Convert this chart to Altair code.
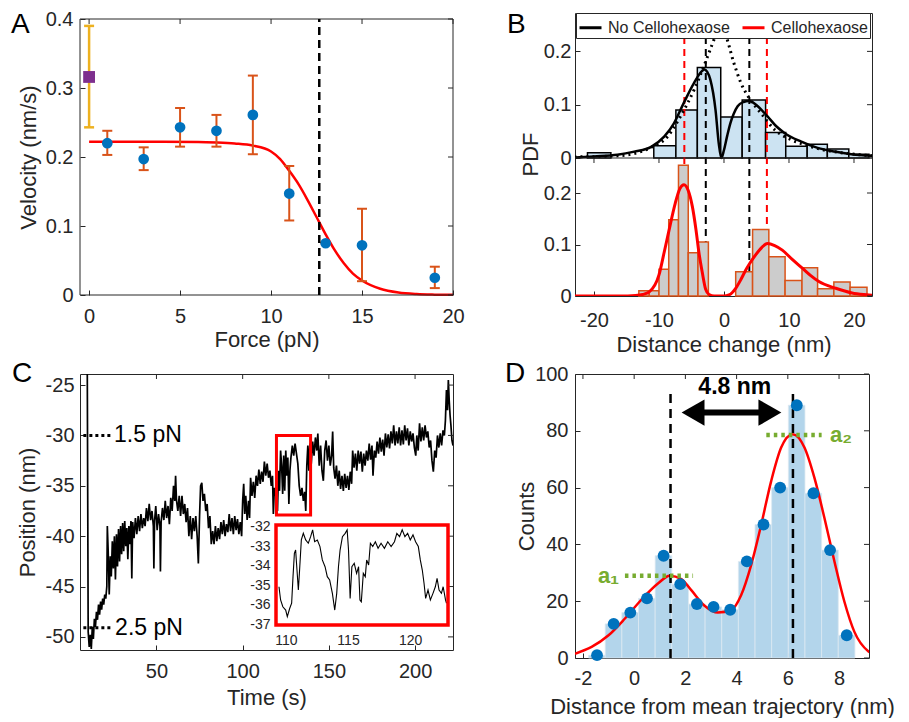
import altair as alt
import pandas as pd

FONT = "Liberation Sans"
INK = "#262626"
BLUE = "#0072BD"
ORANGE = "#D95319"
YELLOW = "#EDB120"
PURPLE = "#7E2F8E"
GREEN = "#77AC30"
RED = "#FF0000"

# ---------------- Panel A data ----------------
force = [1, 3, 5, 7, 9, 11, 13, 15, 19]
velocity = [0.220, 0.197, 0.243, 0.238, 0.261, 0.147, 0.075, 0.072, 0.025]
velocity_lo = [0.203, 0.181, 0.215, 0.215, 0.204, 0.108, 0.075, 0.020, 0.010]
velocity_hi = [0.238, 0.214, 0.271, 0.261, 0.318, 0.187, 0.075, 0.125, 0.041]
control_force = [0]
control_velocity = [0.316]
control_lo = [0.243]
control_hi = [0.390]
fit_force = [0, 2, 4, 6, 7, 8, 9, 10, 10.5, 11, 11.5, 12, 12.5, 13, 13.5, 14, 14.5, 15, 16, 17, 18, 19, 20]
fit_velocity = [0.222, 0.222, 0.222, 0.2218, 0.221, 0.2195, 0.2165, 0.208, 0.197, 0.180, 0.161, 0.138,
                0.113, 0.088, 0.065, 0.046, 0.031, 0.021, 0.009, 0.0035, 0.0013, 0.0005, 0.0002]
stall = [(12.65, 0.0, 0.4)]
a_frame = [(-0.5, 20.0, 0.0, 0.4)]
a_xticks = [0, 5, 10, 15, 20]
a_yticks = [0, 0.1, 0.2, 0.3, 0.4]

# ---------------- Panel B data ----------------
nocello_left = [-21.0, -10.8, -7.4, -4.1, -0.5, 2.8, 6.4, 9.5, 12.8, 15.9, 19.2]
nocello_right = [-17.4, -7.4, -4.1, -0.5, 2.8, 6.4, 9.5, 12.8, 15.9, 19.2, 22.3]
nocello_pdf = [0.010, 0.023, 0.090, 0.170, 0.077, 0.109, 0.048, 0.022, 0.026, 0.017, 0.007]
cello_left = [-13.1, -11.5, -10.0, -8.5, -7.0, -5.5, -4.0, 1.8, 4.4, 6.9, 9.4, 12.0, 14.4, 16.9, 19.4]
cello_right = [-11.5, -10.0, -8.5, -7.0, -5.5, -4.0, -2.4, 4.4, 6.9, 9.4, 12.0, 14.4, 16.9, 19.4, 22.0]
cello_pdf = [0.010, 0.010, 0.052, 0.148, 0.254, 0.084, 0.105, 0.047, 0.129, 0.076, 0.030, 0.055, 0.014, 0.027, 0.017]
nocello_fit = [(-23, 0.001), (-20, 0.003), (-16.4, 0.006), (-13.8, 0.012), (-11.2, 0.021), (-9.2, 0.040),
               (-7.7, 0.065), (-6.2, 0.103), (-4.6, 0.141), (-3.4, 0.163), (-3.0, 0.166), (-2.6, 0.162),
               (-2.1, 0.147), (-1.3, 0.090), (-0.8, 0.027), (-0.4, 0.0), (0.0, 0.015), (0.5, 0.042),
               (1.0, 0.066), (1.5, 0.083), (2.1, 0.097), (3.0, 0.105), (3.8, 0.107), (4.5, 0.104),
               (5.2, 0.097), (6.7, 0.078), (8.0, 0.060), (9.3, 0.047), (11.8, 0.031), (14.4, 0.019),
               (17.0, 0.012), (19.6, 0.007), (23, 0.004)]
single_fit = [(-23, 0.002), (-16.4, 0.004), (-11.2, 0.020), (-8.7, 0.040), (-6.7, 0.078), (-4.6, 0.128),
              (-3.1, 0.172), (-2.1, 0.204), (-1.3, 0.229), (-0.5, 0.245), (0.2, 0.232), (1.5, 0.179),
              (2.6, 0.141), (3.9, 0.112), (5.7, 0.084), (7.8, 0.053), (10.4, 0.034), (12.4, 0.025),
              (15.0, 0.016), (18.0, 0.010), (23, 0.004)]
cello_fit = [(-23, 0.0), (-16, 0.0), (-13.6, 0.001), (-12.5, 0.003), (-11.5, 0.008), (-10.0, 0.041),
             (-9.2, 0.085), (-8.5, 0.125), (-7.5, 0.180), (-6.8, 0.208), (-6.15, 0.216), (-5.5, 0.205),
             (-4.87, 0.174), (-4.3, 0.128), (-3.85, 0.084), (-3.33, 0.045), (-2.82, 0.013), (-2.3, 0.003),
             (-1.5, 0.0), (0.0, 0.0), (0.77, 0.002), (1.8, 0.015), (2.6, 0.032), (3.33, 0.050),
             (4.1, 0.066), (4.87, 0.080), (5.8, 0.094), (6.67, 0.102), (7.8, 0.098), (8.97, 0.089),
             (10.5, 0.071), (12.05, 0.054), (13.3, 0.040), (14.6, 0.028), (17.2, 0.015), (19.7, 0.006),
             (22.3, 0.002), (23, 0.001)]
nocello_steps = [-2.8, 3.9]
cello_steps = [-6.1, 6.6]
b_top_max = 0.272
b_bottom_max = 0.268
b_xticks = [-20, -10, 0, 10, 20]
b_yticks = [0, 0.1, 0.2]

# ---------------- Panel C data ----------------
trace = [
    (9.8, -20.0), (10.4, -49.5), (11.0, -51.0), (11.6, -49.8), (12.2, -51.2), (12.8, -49.0), (13.4, -50.2),
    (14.0, -48.2), (14.6, -49.0), (15.2, -47.5), (15.8, -48.3), (16.4, -46.8), (17.0, -47.8), (17.6, -46.5),
    (18.2, -47.3), (18.8, -46.2), (19.4, -46.8), (20.0, -45.8), (20.6, -46.2), (21.2, -45.0), (21.5, -39.0),
    (22.0, -41.5), (22.6, -45.8), (23.2, -42.0), (23.8, -44.0), (24.4, -40.5), (25.0, -43.2), (25.6, -40.0),
    (26.2, -44.3), (26.8, -39.8), (27.4, -43.0), (28.0, -39.3), (28.6, -42.5), (29.2, -39.0), (29.8, -41.8),
    (30.4, -38.7), (31.0, -41.5), (31.6, -38.5), (32.2, -41.0), (32.8, -39.2), (33.4, -42.3), (34.0, -39.0),
    (34.6, -40.8), (35.2, -38.5), (35.7, -44.2), (36.2, -38.6), (37.0, -40.2), (37.8, -38.2), (38.6, -39.8),
    (39.4, -38.0), (40.2, -39.5), (41.0, -37.8), (41.8, -39.2), (42.6, -38.2), (43.4, -39.0), (44.2, -37.2),
    (45.0, -38.5), (45.8, -36.8), (46.6, -38.4), (47.4, -37.5), (48.2, -39.0), (48.5, -43.2), (48.9, -38.5),
    (49.6, -37.0), (50.4, -39.4), (51.2, -37.8), (52.0, -39.0), (52.3, -43.5), (52.7, -38.6), (53.5, -37.2),
    (54.3, -38.4), (55.1, -36.5), (55.9, -38.2), (56.7, -37.0), (57.5, -38.8), (58.3, -36.2), (59.1, -37.5),
    (59.9, -35.0), (60.6, -36.5), (61.1, -34.0), (61.6, -36.4), (62.4, -37.5), (63.2, -36.0), (64.0, -38.0),
    (64.8, -36.0), (65.6, -37.8), (66.4, -36.8), (67.2, -38.6), (68.0, -37.2), (68.8, -40.0), (69.6, -38.0),
    (70.4, -40.3), (71.2, -38.2), (72.0, -39.5), (72.8, -38.0), (73.6, -40.0), (74.3, -42.7), (75.0, -38.0),
    (75.6, -35.0), (76.3, -34.7), (77.0, -36.5), (77.8, -35.8), (78.6, -37.5), (79.4, -36.8), (80.2, -39.2),
    (81.0, -38.0), (81.8, -40.8), (82.6, -39.5), (83.4, -40.8), (84.2, -39.0), (85.0, -40.5), (85.8, -39.2),
    (86.6, -40.3), (87.4, -38.6), (88.2, -39.8), (89.0, -38.4), (89.8, -40.0), (90.6, -38.8), (91.4, -39.6),
    (92.2, -37.8), (93.0, -39.5), (93.8, -38.2), (94.6, -39.8), (95.4, -38.0), (96.2, -39.4), (97.0, -38.3),
    (97.8, -39.8), (98.6, -38.6), (99.4, -40.0), (100.0, -36.5), (100.6, -34.8), (101.2, -37.8), (101.8, -36.0),
    (102.6, -38.4), (103.4, -36.5), (104.0, -38.2), (104.6, -34.2), (105.4, -36.0), (106.2, -34.6), (107.0, -36.2),
    (107.8, -34.0), (108.6, -35.0), (109.4, -33.4), (110.2, -34.8), (111.0, -33.6), (111.8, -34.6), (112.6, -32.6),
    (113.4, -34.0), (114.2, -32.8), (115.0, -34.2), (115.8, -33.5), (116.6, -35.0), (117.3, -34.0), (117.8, -37.8),
    (118.4, -35.2), (119.0, -36.0), (119.6, -34.5), (120.2, -37.5), (120.8, -33.5), (121.4, -35.5), (122.0, -31.5),
    (122.6, -33.0), (123.2, -35.8), (123.8, -32.0), (124.4, -35.5), (125.0, -31.5), (125.6, -34.0), (126.2, -32.2),
    (126.8, -36.8), (127.4, -33.5), (128.0, -32.2), (128.8, -31.0), (129.6, -32.0), (130.4, -30.8), (131.2, -31.8),
    (132.0, -32.8), (132.8, -35.0), (133.6, -36.0), (134.4, -35.2), (135.2, -36.5), (136.0, -35.6), (136.6, -37.5),
    (137.2, -33.0), (137.8, -31.0), (138.4, -33.5), (139.0, -30.8), (139.8, -32.8), (140.6, -30.6), (141.4, -32.0),
    (142.2, -30.2), (143.0, -31.5), (143.6, -29.8), (144.4, -33.0), (145.2, -31.0), (146.0, -33.5), (146.8, -34.5),
    (147.6, -31.5), (148.4, -30.5), (149.2, -32.5), (150.0, -31.0), (150.8, -33.0), (151.6, -32.0), (152.2, -29.6),
    (152.8, -33.2), (153.6, -34.3), (154.4, -33.0), (155.2, -35.0), (156.0, -33.5), (156.8, -35.3), (157.6, -34.0),
    (158.4, -35.5), (159.2, -33.8), (160.0, -35.2), (160.8, -34.0), (161.6, -35.4), (162.4, -33.6), (163.2, -34.8),
    (163.8, -31.5), (164.6, -33.2), (165.4, -31.8), (166.2, -33.5), (167.0, -31.5), (167.8, -32.8), (168.6, -31.6),
    (169.4, -33.6), (170.2, -31.8), (171.0, -33.0), (171.8, -31.5), (172.6, -32.5), (173.4, -30.8), (174.2, -32.4),
    (175.0, -31.0), (175.6, -34.0), (176.4, -31.5), (177.2, -32.2), (178.0, -30.6), (178.8, -31.8), (179.6, -30.2),
    (180.4, -31.6), (181.2, -30.4), (182.0, -32.0), (182.8, -29.8), (183.6, -31.2), (184.4, -29.9), (185.2, -31.3),
    (186.0, -29.6), (186.8, -30.8), (187.6, -29.0), (188.4, -31.0), (189.2, -29.6), (190.0, -30.8), (190.8, -29.2),
    (191.6, -31.0), (192.4, -29.5), (193.2, -30.9), (194.0, -29.0), (194.8, -30.5), (195.6, -29.3), (196.4, -31.0),
    (197.2, -29.6), (198.0, -30.6), (198.8, -29.8), (199.6, -31.2), (200.4, -32.0), (201.0, -30.0), (201.8, -31.5),
    (202.6, -28.8), (203.4, -30.6), (204.2, -29.2), (205.0, -30.5), (205.8, -29.0), (206.6, -30.2), (207.4, -29.6),
    (208.2, -31.2), (209.0, -30.5), (209.8, -32.5), (210.6, -33.6), (211.4, -31.5), (212.2, -32.2), (213.0, -30.0),
    (213.8, -31.2), (214.6, -29.8), (215.4, -31.0), (216.2, -29.5), (217.0, -30.0), (217.6, -28.5), (218.2, -25.5),
    (218.8, -27.5), (219.3, -24.5), (219.8, -26.5), (220.3, -28.0), (220.8, -29.0), (221.4, -30.5), (222.0, -31.0)]
inset_trace = [
    (109.44, -35.08), (109.57, -35.76), (109.75, -36.11), (109.98, -36.28), (110.11, -36.62), (110.30, -36.20),
    (110.46, -35.93), (110.57, -34.56), (110.68, -33.36), (110.78, -33.19), (110.89, -34.22), (111.00, -35.25),
    (111.10, -34.22), (111.24, -32.67), (111.40, -32.33), (111.59, -32.67), (111.80, -32.84), (111.99, -32.50),
    (112.15, -32.15), (112.31, -32.76), (112.53, -32.67), (112.74, -33.01), (112.93, -33.70), (113.15, -34.05),
    (113.33, -34.56), (113.52, -34.73), (113.74, -35.42), (113.93, -36.28), (114.09, -35.42), (114.23, -34.05),
    (114.36, -33.19), (114.55, -32.50), (114.77, -32.33), (114.93, -32.15), (115.04, -33.19), (115.17, -35.68),
    (115.31, -34.05), (115.50, -33.87), (115.69, -34.39), (115.85, -34.05), (115.96, -35.76), (116.07, -35.85),
    (116.23, -34.39), (116.39, -34.56), (116.50, -33.70), (116.66, -33.96), (116.80, -32.84), (116.99, -33.01),
    (117.20, -32.76), (117.42, -33.10), (117.66, -32.84), (117.93, -33.10), (118.20, -32.76), (118.47, -33.01),
    (118.74, -32.76), (118.93, -32.33), (119.15, -32.50), (119.36, -32.15), (119.58, -32.50), (119.80, -32.33),
    (120.01, -32.67), (120.23, -32.41), (120.44, -32.76), (120.66, -33.01), (120.82, -33.70), (120.98, -34.22),
    (121.12, -34.90), (121.25, -35.68), (121.44, -35.25), (121.63, -35.76), (121.84, -35.42), (122.03, -35.08),
    (122.17, -34.65), (122.33, -35.25), (122.52, -35.42), (122.66, -35.08), (122.85, -35.76), (122.93, -35.93)]
zoom_box = [(119.6, 139.4, -37.9, -30.0)]
inset_box = [(109.2, 123.05, -37.05, -31.9)]
force_marks = [(-30.0, 7.6, 23.3, 25.4, "1.5 pN"), (-49.1, 7.6, 24.3, 26.0, "2.5 pN")]
c_xticks = [50, 100, 150, 200]
c_yticks = [-50, -45, -40, -35, -30, -25]
inset_xticks = [110, 115, 120]
inset_yticks = [-37, -36, -35, -34, -33, -32]

# ---------------- Panel D data ----------------
d_center = [-1.45, -0.8, -0.15, 0.5, 1.15, 1.8, 2.45, 3.1, 3.75, 4.4, 5.05, 5.7, 6.35, 7.0, 7.65, 8.3]
d_left = [-1.78, -1.13, -0.48, 0.17, 0.82, 1.47, 2.12, 2.77, 3.42, 4.07, 4.72, 5.37, 6.02, 6.67, 7.32, 7.97]
d_right = [-1.13, -0.48, 0.17, 0.82, 1.47, 2.12, 2.77, 3.42, 4.07, 4.72, 5.37, 6.02, 6.67, 7.32, 7.97, 8.62]
d_counts = [1, 12, 16, 21, 36, 26, 19, 18, 17, 34, 47, 60, 89, 58, 38, 8]
d_fit = [(-2.31, 1.5), (-1.66, 3.9), (-1.0, 8.0), (-0.36, 13.9), (0.29, 20.6), (0.94, 26.3), (1.39, 29.0),
         (1.84, 27.8), (2.23, 23.9), (2.75, 18.4), (3.27, 16.0), (3.79, 16.9), (4.18, 22.2), (4.57, 32.8),
         (4.96, 46.9), (5.35, 62.3), (5.74, 74.1), (6.19, 78.8), (6.65, 74.1), (7.04, 63.4), (7.43, 49.3),
         (7.82, 34.0), (8.21, 19.8), (8.6, 9.2), (9.14, 2.4), (9.2, 2.0)]
d_steps = [(1.42, 0, 95), (6.2, 0, 95)]
arrow = [(2.3, 5.3, 86.4)]
step_label = [(3.93, 95.5, "4.8 nm")]
levels = [(-0.36, 2.3, 29.0, -1.0, "a\u2081"), (5.16, 7.32, 78.5, 8.08, "a\u2082")]
d_xticks = [-2, 0, 2, 4, 6, 8]
d_yticks = [0, 20, 40, 60, 80, 100]


# ---------------- helpers ----------------
def yaxis(values, title, label_pad, title_pad, labels=True):
    return alt.Axis(values=values, orient="left", offset=-5, tickSize=5, tickWidth=1, tickColor=INK,
                    domain=False, grid=False, labels=labels, labelPadding=label_pad, labelFont=FONT,
                    labelFontSize=20, labelColor=INK, labelExpr="'' + datum.value", labelOverlap=False,
                    title=title, titleFont=FONT, titleFontSize=22, titleFontWeight="normal",
                    titleColor=INK, titlePadding=title_pad)


def xaxis(values, title, label_pad, title_pad, labels=True, offset=-5):
    return alt.Axis(values=values, orient="bottom", offset=offset, tickSize=5, tickWidth=1, tickColor=INK,
                    domain=False, grid=False, labels=labels, labelPadding=label_pad, labelFont=FONT,
                    labelFontSize=20, labelColor=INK, labelExpr="'' + datum.value", labelOverlap=False,
                    labelFlush=False, title=title, titleFont=FONT, titleFontSize=22,
                    titleFontWeight="normal", titleColor=INK, titlePadding=title_pad)


def top_ticks(values, scale, y0=0):
    return alt.Chart(pd.DataFrame({"tick": values})).mark_rule(color=INK, strokeWidth=1).encode(
        x=alt.X("tick:Q", scale=scale), y=alt.value(y0), y2=alt.value(y0 + 5))


def right_ticks(values, scale, width):
    return alt.Chart(pd.DataFrame({"tick": values})).mark_rule(color=INK, strokeWidth=1).encode(
        y=alt.Y("tick:Q", scale=scale), x=alt.value(width - 5), x2=alt.value(width))


def letter(ch, dx, dy):
    return alt.Chart(pd.DataFrame({"s": [ch]})).mark_text(
        fontSize=28, color="black", align="left", baseline="alphabetic", font=FONT).encode(
        text="s:N", x=alt.value(dx), y=alt.value(dy))


# ---------------- Panel A ----------------
WA, HA = 373, 283
xA = alt.Scale(domain=[-0.5, 20], nice=False, zero=False)
yA = alt.Scale(domain=[0, 0.4], range=[282, 6], nice=False, zero=False)
dfA = pd.DataFrame({"force": force, "vel": velocity, "lo": velocity_lo, "hi": velocity_hi})
dfC0 = pd.DataFrame({"force": control_force, "vel": control_velocity, "lo": control_lo, "hi": control_hi})
dfFitA = pd.DataFrame({"force": fit_force, "vel": fit_velocity})
dfStall = pd.DataFrame(stall, columns=["f", "v0", "v1"])
dfFrameA = pd.DataFrame(a_frame, columns=["x0", "x1", "y0", "y1"])

fitA = alt.Chart(dfFitA).mark_line(color=RED, strokeWidth=2.5, interpolate="monotone").encode(
    x=alt.X("force:Q", scale=xA, axis=xaxis(a_xticks, "Force (pN)", 11, 3, offset=-6)),
    y=alt.Y("vel:Q", scale=yA, axis=yaxis(a_yticks, "Velocity (nm/s)", 7, 5)))
frameA = alt.Chart(dfFrameA).mark_rect(fillOpacity=0, stroke=INK, strokeWidth=1).encode(
    x=alt.X("x0:Q", scale=xA), x2="x1:Q", y=alt.Y("y0:Q", scale=yA), y2="y1:Q")
errA = alt.Chart(dfA).mark_rule(color=ORANGE, strokeWidth=2).encode(
    x=alt.X("force:Q", scale=xA), y=alt.Y("lo:Q", scale=yA), y2="hi:Q")
capA = alt.Chart(dfA).transform_fold(["lo", "hi"], as_=["end", "val"]).mark_point(
    shape="stroke", size=100, strokeWidth=2, color=ORANGE, opacity=1).encode(
    x=alt.X("force:Q", scale=xA), y=alt.Y("val:Q", scale=yA))
err0 = alt.Chart(dfC0).mark_rule(color=YELLOW, strokeWidth=2.5).encode(
    x=alt.X("force:Q", scale=xA), y=alt.Y("lo:Q", scale=yA), y2="hi:Q")
cap0 = alt.Chart(dfC0).transform_fold(["lo", "hi"], as_=["end", "val"]).mark_point(
    shape="stroke", size=100, strokeWidth=2.5, color=YELLOW, opacity=1).encode(
    x=alt.X("force:Q", scale=xA), y=alt.Y("val:Q", scale=yA))
sq0 = alt.Chart(dfC0).mark_square(size=140, color=PURPLE, opacity=1).encode(
    x=alt.X("force:Q", scale=xA), y=alt.Y("vel:Q", scale=yA))
ptsA = alt.Chart(dfA).mark_circle(size=115, color=BLUE, opacity=1).encode(
    x=alt.X("force:Q", scale=xA), y=alt.Y("vel:Q", scale=yA))
stallA = alt.Chart(dfStall).mark_rule(color="black", strokeWidth=2.5, strokeDash=[8, 5]).encode(
    x=alt.X("f:Q", scale=xA), y=alt.Y("v0:Q", scale=yA), y2="v1:Q")
panelA = alt.layer(fitA, frameA, errA, capA, err0, cap0, sq0, ptsA, stallA,
                   top_ticks(a_xticks, xA, y0=6), right_ticks(a_yticks, yA, WA),
                   letter("A", -69, 20)).properties(
    width=WA, height=HA, view=alt.ViewBackground(strokeOpacity=0))

# ---------------- Panel B ----------------
WB, HB = 297, 283
SPLIT = 145
xB1 = alt.Scale(domain=[-22.92, 22.77], nice=False, zero=False)
xB2 = alt.Scale(domain=[-22.92, 22.77], nice=False, zero=False)
yB1 = alt.Scale(domain=[0, b_top_max], range=[SPLIT, 0], nice=False, zero=False)
yB2 = alt.Scale(domain=[0, b_bottom_max], range=[HB, SPLIT], nice=False, zero=False)
color_scale = alt.Scale(domain=["No Cellohexaose", "Cellohexaose"], range=["black", RED])
legendB = alt.Legend(orient="none", legendX=1, legendY=0, direction="horizontal", title=None,
                     symbolType="stroke", symbolSize=484, symbolStrokeWidth=3, labelFont=FONT,
                     labelFontSize=16, labelColor=INK, fillColor="white", strokeColor=INK,
                     padding=2, columnPadding=6, labelOffset=5)

dfNoc = pd.DataFrame({"l": nocello_left, "r": nocello_right, "p": nocello_pdf, "base": 0.0})
dfCel = pd.DataFrame({"l": cello_left, "r": cello_right, "p": cello_pdf, "base": 0.0})
dfNocFit = pd.DataFrame(nocello_fit, columns=["d", "p"]).assign(series="No Cellohexaose")
dfSingle = pd.DataFrame(single_fit, columns=["d", "p"])
dfCelFit = pd.DataFrame(cello_fit, columns=["d", "p"]).assign(series="Cellohexaose")

barsB1 = alt.Chart(dfNoc).mark_rect(fill="#CCE3F2", stroke="black", strokeWidth=1.5).encode(
    x=alt.X("l:Q", scale=xB1, axis=xaxis(b_xticks, None, 0, 0, labels=False, offset=-(HB - SPLIT) - 5)),
    x2="r:Q", y=alt.Y("p:Q", scale=yB1, axis=yaxis(b_yticks, None, 4, 0)), y2="base:Q")
dashB1a = alt.Chart(pd.DataFrame({"d": nocello_steps})).mark_rule(
    color="black", strokeWidth=2, strokeDash=[7, 5]).encode(x=alt.X("d:Q", scale=xB1))
dashB1b = alt.Chart(pd.DataFrame({"d": cello_steps})).mark_rule(
    color=RED, strokeWidth=2, strokeDash=[7, 5]).encode(x=alt.X("d:Q", scale=xB1))
singleB = alt.Chart(dfSingle).mark_line(color="black", strokeWidth=3, strokeDash=[2, 4],
                                        interpolate="monotone", clip=True).encode(
    x=alt.X("d:Q", scale=xB1), y=alt.Y("p:Q", scale=yB1))
nocFitB = alt.Chart(dfNocFit).mark_line(strokeWidth=2.5, interpolate="monotone", clip=True).encode(
    x=alt.X("d:Q", scale=xB1), y=alt.Y("p:Q", scale=yB1),
    color=alt.Color("series:N", scale=color_scale, legend=legendB))
pdf_title = alt.Chart(pd.DataFrame({"s": ["PDF"]})).mark_text(
    fontSize=22, color=INK, angle=270, align="center", baseline="middle", font=FONT).encode(
    text="s:N", x=alt.value(-44), y=alt.value(141.5))
topB = alt.layer(barsB1, dashB1a, dashB1b, singleB, nocFitB, top_ticks(b_xticks, xB1),
                 right_ticks(b_yticks, yB1, WB), letter("B", -68, 20), pdf_title)

barsB2 = alt.Chart(dfCel).mark_rect(fill="#CCCCCC", stroke=ORANGE, strokeWidth=1.5).encode(
    x=alt.X("l:Q", scale=xB2, axis=xaxis(b_xticks, "Distance change (nm)", 14, 4)), x2="r:Q",
    y=alt.Y("p:Q", scale=yB2, axis=yaxis(b_yticks, None, 4, 0)), y2="base:Q")
celFitB = alt.Chart(dfCelFit).mark_line(strokeWidth=3, interpolate="monotone", clip=True).encode(
    x=alt.X("d:Q", scale=xB2), y=alt.Y("p:Q", scale=yB2),
    color=alt.Color("series:N", scale=color_scale, legend=legendB))
splitB = alt.Chart(pd.DataFrame({"p": [b_bottom_max]})).mark_rule(color=INK, strokeWidth=1).encode(
    y=alt.Y("p:Q", scale=yB2))
bottomB = alt.layer(barsB2, celFitB, splitB, top_ticks(b_xticks, xB2, y0=SPLIT),
                    right_ticks(b_yticks, yB2, WB))
panelB = alt.layer(topB, bottomB).resolve_scale(x="independent", y="independent").properties(
    width=WB, height=HB)

# ---------------- Panel C ----------------
WC, HC = 373, 276
xC = alt.Scale(domain=[5.65, 222], nice=False, zero=False)
yC = alt.Scale(domain=[-51.3, -23.9], nice=False, zero=False)
xI = alt.Scale(domain=[109.2, 123.05], range=[196, 368], nice=False, zero=False)
yI = alt.Scale(domain=[-37.05, -31.9], range=[251, 151], nice=False, zero=False)
dfTrace = pd.DataFrame(trace, columns=["t", "pos"])
dfInset = pd.DataFrame(inset_trace, columns=["t", "pos"])
dfMarks = pd.DataFrame(force_marks, columns=["pos", "t_start", "t_end", "t_text", "label"])
dfZoom = pd.DataFrame(zoom_box, columns=["t0", "t1", "p0", "p1"])
dfIbox = pd.DataFrame(inset_box, columns=["t0", "t1", "p0", "p1"])

lineC = alt.Chart(dfTrace).mark_line(color="black", strokeWidth=1.7, clip=True).encode(
    x=alt.X("t:Q", scale=xC, axis=xaxis(c_xticks, "Time (s)", 11, 6)),
    y=alt.Y("pos:Q", scale=yC, axis=yaxis(c_yticks, "Position (nm)", 6, 6)))
boxC = alt.Chart(dfZoom).mark_rect(fillOpacity=0, stroke=RED, strokeWidth=3).encode(
    x=alt.X("t0:Q", scale=xC), x2="t1:Q", y=alt.Y("p0:Q", scale=yC), y2="p1:Q")
markRule = alt.Chart(dfMarks).mark_rule(color="black", strokeWidth=3, strokeDash=[3, 3]).encode(
    x=alt.X("t_start:Q", scale=xC), x2="t_end:Q", y=alt.Y("pos:Q", scale=yC))
markText = alt.Chart(dfMarks).mark_text(fontSize=23, color="black", align="left", baseline="middle",
                                        font=FONT).encode(
    x=alt.X("t_text:Q", scale=xC), y=alt.Y("pos:Q", scale=yC), text="label:N")
mainC = alt.layer(lineC, boxC, markRule, markText, top_ticks(c_xticks, xC),
                  right_ticks(c_yticks, yC, WC), letter("C", -68, 8))

inset_x_axis = alt.Axis(values=inset_xticks, orient="bottom", offset=-25, ticks=False, domain=False,
                        grid=False, labelPadding=8, labelFont=FONT, labelFontSize=14, labelColor=INK,
                        labelExpr="'' + datum.value", labelFlush=False, labelOverlap=False, title=None)
inset_y_axis = alt.Axis(values=inset_yticks, orient="left", offset=-195, ticks=False, domain=False,
                        grid=False, labelPadding=5, labelFont=FONT, labelFontSize=14, labelColor=INK,
                        labelExpr="'' + datum.value", labelOverlap=False, title=None)
lineI = alt.Chart(dfInset).mark_line(color="black", strokeWidth=1.1).encode(
    x=alt.X("t:Q", scale=xI, axis=inset_x_axis), y=alt.Y("pos:Q", scale=yI, axis=inset_y_axis))
frameI = alt.Chart(dfIbox).mark_rect(fillOpacity=0, stroke=RED, strokeWidth=3.5).encode(
    x=alt.X("t0:Q", scale=xI), x2="t1:Q", y=alt.Y("p0:Q", scale=yI), y2="p1:Q")
insetC = alt.layer(lineI, frameI)
panelC = alt.layer(mainC, insetC).resolve_scale(x="independent", y="independent").properties(
    width=WC, height=HC)

# ---------------- Panel D ----------------
WD, HD = 294, 284
xD = alt.Scale(domain=[-2.31, 9.17], nice=False, zero=False)
yD = alt.Scale(domain=[0, 100], nice=False, zero=False)
dfD = pd.DataFrame({"c": d_center, "l": d_left, "r": d_right, "n": d_counts, "base": 0})
dfDfit = pd.DataFrame(d_fit, columns=["x", "n"])
dfSteps = pd.DataFrame(d_steps, columns=["x", "bottom", "top"])
dfArrow = pd.DataFrame(arrow, columns=["x0", "x1", "y"])
dfLabel = pd.DataFrame(step_label, columns=["x", "y", "s"])
dfLev = pd.DataFrame(levels, columns=["x0", "x1", "y", "xl", "s"])

barsD = alt.Chart(dfD).mark_rect(fill="#B3D5EB", stroke="#DCE8F1", strokeWidth=0.8).encode(
    x=alt.X("l:Q", scale=xD, axis=xaxis(d_xticks, "Distance from mean trajectory (nm)", 10, 8)),
    x2="r:Q", y=alt.Y("n:Q", scale=yD, axis=yaxis(d_yticks, "Counts", 7, -4)), y2="base:Q")
fitD = alt.Chart(dfDfit).mark_line(color=RED, strokeWidth=2.5, interpolate="monotone", clip=True).encode(
    x=alt.X("x:Q", scale=xD), y=alt.Y("n:Q", scale=yD))
dashD = alt.Chart(dfSteps).mark_rule(color="black", strokeWidth=2.5, strokeDash=[9, 6]).encode(
    x=alt.X("x:Q", scale=xD), y=alt.Y("bottom:Q", scale=yD), y2="top:Q")
ptsD = alt.Chart(dfD).mark_circle(size=140, color=BLUE, opacity=1).encode(
    x=alt.X("c:Q", scale=xD), y=alt.Y("n:Q", scale=yD))
arrowLine = alt.Chart(dfArrow).mark_rule(color="black", strokeWidth=6).encode(
    x=alt.X("x0:Q", scale=xD), x2="x1:Q", y=alt.Y("y:Q", scale=yD))
headL = alt.Chart(dfArrow).mark_point(shape="triangle-left", size=700, filled=True, color="black",
                                      opacity=1).encode(
    x=alt.X("x0:Q", scale=xD), y=alt.Y("y:Q", scale=yD))
headR = alt.Chart(dfArrow).mark_point(shape="triangle-right", size=700, filled=True, color="black",
                                      opacity=1).encode(
    x=alt.X("x1:Q", scale=xD), y=alt.Y("y:Q", scale=yD))
stepText = alt.Chart(dfLabel).mark_text(
    fontSize=23, fontWeight="bold", color="black", align="center", baseline="middle", font=FONT).encode(
    x=alt.X("x:Q", scale=xD), y=alt.Y("y:Q", scale=yD), text="s:N")
levRule = alt.Chart(dfLev).mark_rule(color=GREEN, strokeWidth=4.5, strokeDash=[3.5, 4]).encode(
    x=alt.X("x0:Q", scale=xD), x2="x1:Q", y=alt.Y("y:Q", scale=yD))
levText = alt.Chart(dfLev).mark_text(fontSize=22, fontWeight="bold", color=GREEN, align="center",
                                     baseline="middle", font=FONT).encode(
    x=alt.X("xl:Q", scale=xD), y=alt.Y("y:Q", scale=yD), text="s:N")
panelD = alt.layer(barsD, fitD, dashD, ptsD, arrowLine, headL, headR, stepText, levRule, levText,
                   top_ticks(d_xticks, xD), right_ticks(d_yticks, yD, WD),
                   letter("D", -70, 8)).properties(width=WD, height=HD)

# ---------------- Layout ----------------
chart = alt.concat(panelA, panelB, panelC, panelD, columns=2, spacing={"row": 78, "column": 122},
                   bounds="flush").resolve_scale(color="independent").properties(
    padding={"left": 3, "top": 1, "right": 0, "bottom": 0}
).configure(font=FONT).configure_view(stroke=INK, strokeWidth=1)

chart.save("out.html", embed_options={"renderer": "svg", "actions": False})
